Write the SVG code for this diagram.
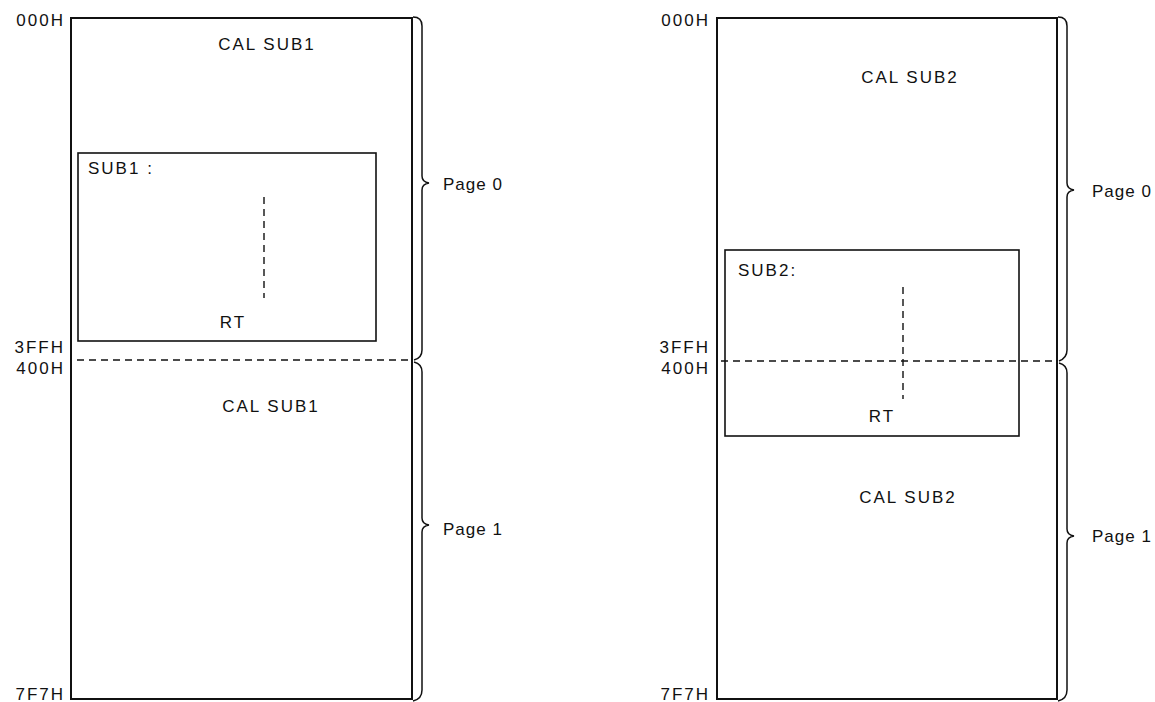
<svg xmlns="http://www.w3.org/2000/svg" width="1155" height="702" viewBox="0 0 1155 702">
<style>
text{font-family:"Liberation Sans",Arial,sans-serif;font-size:17px;fill:#111;letter-spacing:2px}
.pg{letter-spacing:1px}
.box{fill:none;stroke:#111;stroke-width:2}
.inner{fill:none;stroke:#111;stroke-width:1.6}
.dash{fill:none;stroke:#111;stroke-width:1.4;stroke-dasharray:7,5}
.brace{fill:none;stroke:#111;stroke-width:1.5}
.r{text-anchor:end}
.m{text-anchor:middle}
</style>
<rect width="1155" height="702" fill="#fff"/>
<g id="left-memory">
<rect class="box" x="71" y="18" width="341" height="681"/>
<text class="r" x="65" y="26">000H</text>
<text class="r" x="65" y="353">3FFH</text>
<text class="r" x="65" y="374">400H</text>
<text class="r" x="65" y="700">7F7H</text>
<text class="m" x="267" y="50">CAL SUB1</text>
<text class="m" x="271" y="412">CAL SUB1</text>
</g>
<g id="left-sub1">
<rect class="inner" x="78" y="153" width="298" height="188"/>
<text x="88" y="174">SUB1 :</text>
<text class="m" x="233" y="328">RT</text>
<line class="dash" x1="264" y1="197" x2="264" y2="298"/>
</g>
<g id="right-memory">
<rect class="box" x="717" y="18" width="340" height="681"/>
<text class="r" x="710" y="353">3FFH</text>
<text class="r" x="710" y="374">400H</text>
<text class="r" x="710" y="26">000H</text>
<text class="r" x="710" y="700">7F7H</text>
<text class="m" x="910" y="83">CAL SUB2</text>
<text class="m" x="908" y="503">CAL SUB2</text>
</g>
<g id="right-sub2">
<rect class="inner" x="725" y="250" width="294" height="186"/>
<text x="738" y="276">SUB2:</text>
<text class="m" x="882" y="422">RT</text>
</g>
<g id="connectors">
<line class="dash" x1="77" y1="360" x2="412" y2="360"/>
<line class="dash" x1="721" y1="361" x2="1057" y2="361"/>
<line class="dash" x1="903" y1="287" x2="903" y2="399"/>
<path class="brace" d="M413,17 Q422,17 422,26 L422,176 Q422,182 429,183 Q422,184 422,190 L422,350 Q422,358 414,360"/>
<path class="brace" d="M414,362 Q422,364 422,372 L422,518 Q422,524 429,525 Q422,526 422,532 L422,690 Q422,699 413,701"/>
<path class="brace" d="M1058,17 Q1067,17 1067,26 L1067,183 Q1067,189 1074,190 Q1067,191 1067,197 L1067,350 Q1067,358 1059,361"/>
<path class="brace" d="M1059,363 Q1067,365 1067,373 L1067,529 Q1067,535 1074,536 Q1067,537 1067,543 L1067,690 Q1067,699 1058,701"/>
<text class="pg" x="443" y="190">Page 0</text>
<text class="pg" x="443" y="535">Page 1</text>
<text class="pg" x="1092" y="197">Page 0</text>
<text class="pg" x="1092" y="542">Page 1</text>
</g>
</svg>
